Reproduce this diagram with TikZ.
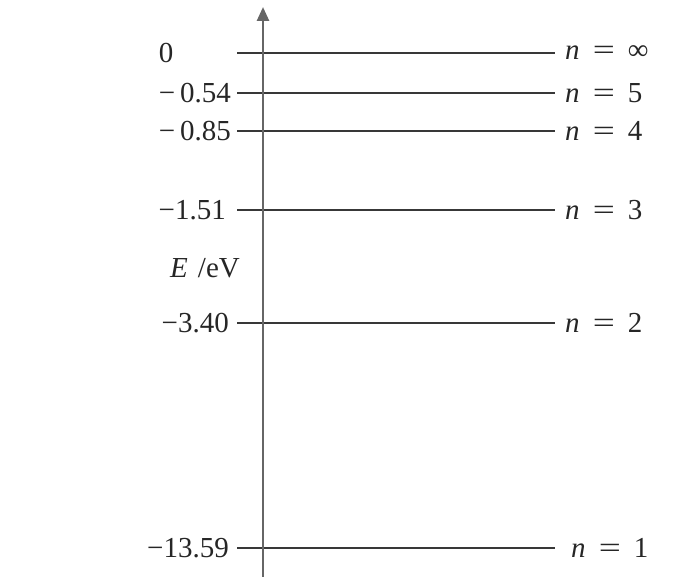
\documentclass[tikz,border=0pt]{standalone}
\usepackage{fontspec}
\usepackage{graphicx}
\setmainfont{Liberation Serif}
\usetikzlibrary{arrows.meta}
\newcommand{\nlevel}[1]{\textit{n}\hspace{0.45em}\scalebox{1.35}[1]{=}\hspace{0.45em}#1}
\begin{document}
\begin{tikzpicture}[x=1pt,y=-1pt,
  level/.style={draw=black!78, line width=1.7pt},
  axisline/.style={draw=black!60, line width=2.6pt, -{Triangle[length=14pt,width=12pt]}},
  lab/.style={font=\fontsize{29}{32}\selectfont, inner sep=0pt, text=black!85}]
\useasboundingbox (0,0) rectangle (682,577);
% level end points
\foreach \nm/\yy in {inf/53, five/93, four/131, three/210, two/323, one/548}{
  \coordinate (\nm L) at (237,\yy);
  \coordinate (\nm R) at (555,\yy);
}
\foreach \nm in {inf,five,four,three,two,one}{
  \draw[level] (\nm L) -- (\nm R);
}
% axis
\coordinate (axbot) at (263,577);
\coordinate (axtop) at (263,7);
\draw[axisline] (axbot) -- (axtop);
% left labels
\node[lab] (e0) at (166,53) {0};
\node[lab, anchor=east] (e5) at (231,93) {−\,0.54};
\node[lab, anchor=east] (e4) at (231,131) {−\,0.85};
\node[lab, anchor=east] (e3) at (226,210) {−1.51};
\node[lab, anchor=east] (e2) at (229,323) {−3.40};
\node[lab, anchor=east] (e1) at (229,548) {−13.59};
\node[lab] (ylab) at (205,268) {\textit{E}\hspace{0.35em}/eV};
% right labels
\node[lab, anchor=west] (n0) at (565,53) {\nlevel{∞}};
\node[lab, anchor=west] (n5) at (565,93) {\nlevel{5}};
\node[lab, anchor=west] (n4) at (565,131) {\nlevel{4}};
\node[lab, anchor=west] (n3) at (565,210) {\nlevel{3}};
\node[lab, anchor=west] (n2) at (565,323) {\nlevel{2}};
\node[lab, anchor=west] (n1) at (571,548) {\nlevel{1}};
\end{tikzpicture}
\end{document}
